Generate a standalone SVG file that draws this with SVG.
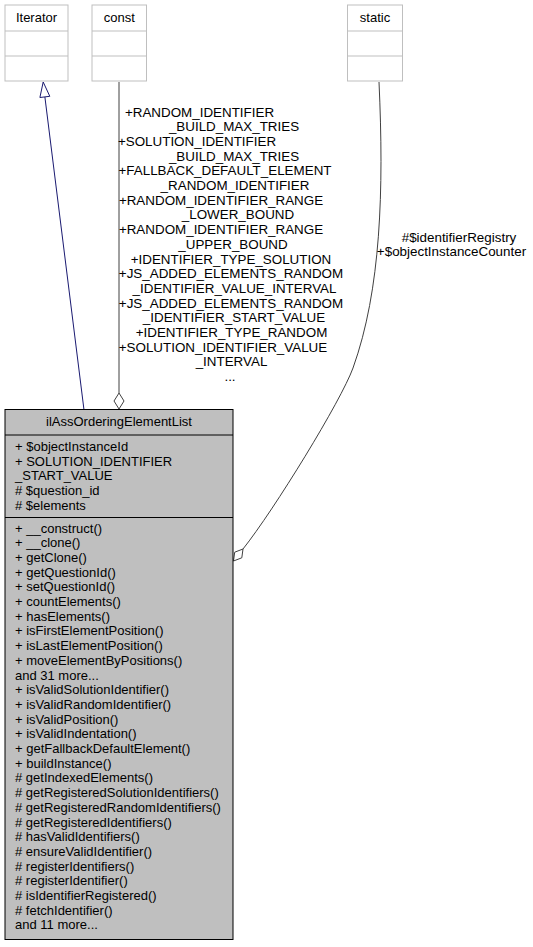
<svg xmlns="http://www.w3.org/2000/svg" width="533" height="947" viewBox="0 0 533 947">
<style>
text{font-family:"Liberation Sans",Arial,sans-serif;font-size:13px;fill:#000}
.c{text-anchor:middle}
.lbl{font-size:13.4px}
.ext{fill:#fff;stroke:#bfbfbf;stroke-width:1}
.main{fill:#bfbfbf;stroke:#000;stroke-width:1}
.sep{stroke:#000;stroke-width:1}
.sepl{stroke:#bfbfbf;stroke-width:1}
.agg{fill:none;stroke:#404040;stroke-width:1}
.aggh{fill:#fff;stroke:#404040;stroke-width:1}
.inh{fill:none;stroke:#191970;stroke-width:1}
.inhh{fill:#fff;stroke:#191970;stroke-width:1}
</style>
<rect width="533" height="947" fill="#fff"/>
<g id="edges">
  <path class="inh" d="M84,410 L44.9,97"/>
  <polygon class="inhh" points="43.2,82 49.8,96.3 39.9,97.5"/>
  <path class="agg" d="M119,82 L119,393"/>
  <polygon class="aggh" points="119,393 124,401 119,409 114,401"/>
  <path class="agg" d="M379,82 C384,190 381,290 353,368 C341,401 274,510 243,549"/>
  <polygon class="aggh" points="243,549 241.8,557.8 233.5,561 234.7,552.2"/>
  <g id="const-label" class="lbl">
    <text class="c lbl" x="199.5" y="116.5">+RANDOM_IDENTIFIER</text>
    <text class="c lbl" x="234" y="131.2">_BUILD_MAX_TRIES</text>
    <text class="c lbl" x="197" y="145.9">+SOLUTION_IDENTIFIER</text>
    <text class="c lbl" x="234" y="160.6">_BUILD_MAX_TRIES</text>
    <text class="c lbl" x="225" y="175.3">+FALLBACK_DEFAULT_ELEMENT</text>
    <text class="c lbl" x="235" y="190">_RANDOM_IDENTIFIER</text>
    <text class="c lbl" x="221" y="204.7">+RANDOM_IDENTIFIER_RANGE</text>
    <text class="c lbl" x="238" y="219.4">_LOWER_BOUND</text>
    <text class="c lbl" x="221" y="234.1">+RANDOM_IDENTIFIER_RANGE</text>
    <text class="c lbl" x="233" y="248.8">_UPPER_BOUND</text>
    <text class="c lbl" x="231" y="263.5">+IDENTIFIER_TYPE_SOLUTION</text>
    <text class="c lbl" x="231" y="278.2">+JS_ADDED_ELEMENTS_RANDOM</text>
    <text class="c lbl" x="234.5" y="292.9">_IDENTIFIER_VALUE_INTERVAL</text>
    <text class="c lbl" x="231" y="307.6">+JS_ADDED_ELEMENTS_RANDOM</text>
    <text class="c lbl" x="234" y="322.3">_IDENTIFIER_START_VALUE</text>
    <text class="c lbl" x="231.5" y="337">+IDENTIFIER_TYPE_RANDOM</text>
    <text class="c lbl" x="223" y="351.7">+SOLUTION_IDENTIFIER_VALUE</text>
    <text class="c lbl" x="231.5" y="366.4">_INTERVAL</text>
    <text class="c lbl" x="230" y="381.1">...</text>
  </g>
  <g id="static-label">
    <text class="c lbl" x="459" y="241.5">#$identifierRegistry</text>
    <text class="c lbl" x="451.5" y="256.2">+$objectInstanceCounter</text>
  </g>
</g>
<g id="Iterator">
  <rect class="ext" x="5" y="5" width="63" height="76"/>
  <line class="sepl" x1="5" y1="31" x2="68" y2="31"/>
  <line class="sepl" x1="5" y1="56" x2="68" y2="56"/>
  <text class="c" x="36.5" y="22">Iterator</text>
</g>
<g id="const">
  <rect class="ext" x="92" y="5" width="54.5" height="76"/>
  <line class="sepl" x1="92" y1="31" x2="146.5" y2="31"/>
  <line class="sepl" x1="92" y1="56" x2="146.5" y2="56"/>
  <text class="c" x="119.3" y="22">const</text>
</g>
<g id="static">
  <rect class="ext" x="347.5" y="5" width="55" height="76"/>
  <line class="sepl" x1="347.5" y1="31" x2="402.5" y2="31"/>
  <line class="sepl" x1="347.5" y1="56" x2="402.5" y2="56"/>
  <text class="c" x="375" y="22">static</text>
</g>
<g id="ilAssOrderingElementList">
  <rect class="main" x="5" y="409.5" width="228" height="530"/>
  <line class="sep" x1="5" y1="435" x2="233" y2="435"/>
  <line class="sep" x1="5" y1="517.5" x2="233" y2="517.5"/>
  <text class="c" x="119" y="426">ilAssOrderingElementList</text>
  <text x="15" y="451">+ $objectInstanceId</text>
  <text x="15" y="465.7">+ SOLUTION_IDENTIFIER</text>
  <text x="15" y="480.4">_START_VALUE</text>
  <text x="15" y="495.1"># $question_id</text>
  <text x="15" y="509.8"># $elements</text>
  <text x="15" y="532.5">+ __construct()</text>
  <text x="15" y="547.2">+ __clone()</text>
  <text x="15" y="561.9">+ getClone()</text>
  <text x="15" y="576.6">+ getQuestionId()</text>
  <text x="15" y="591.3">+ setQuestionId()</text>
  <text x="15" y="606">+ countElements()</text>
  <text x="15" y="620.7">+ hasElements()</text>
  <text x="15" y="635.4">+ isFirstElementPosition()</text>
  <text x="15" y="650.1">+ isLastElementPosition()</text>
  <text x="15" y="664.8">+ moveElementByPositions()</text>
  <text x="15" y="679.5">and 31 more...</text>
  <text x="15" y="694.2">+ isValidSolutionIdentifier()</text>
  <text x="15" y="708.9">+ isValidRandomIdentifier()</text>
  <text x="15" y="723.6">+ isValidPosition()</text>
  <text x="15" y="738.3">+ isValidIndentation()</text>
  <text x="15" y="753">+ getFallbackDefaultElement()</text>
  <text x="15" y="767.7">+ buildInstance()</text>
  <text x="15" y="782.4"># getIndexedElements()</text>
  <text x="15" y="797.1"># getRegisteredSolutionIdentifiers()</text>
  <text x="15" y="811.8"># getRegisteredRandomIdentifiers()</text>
  <text x="15" y="826.5"># getRegisteredIdentifiers()</text>
  <text x="15" y="841.2"># hasValidIdentifiers()</text>
  <text x="15" y="855.9"># ensureValidIdentifier()</text>
  <text x="15" y="870.6"># registerIdentifiers()</text>
  <text x="15" y="885.3"># registerIdentifier()</text>
  <text x="15" y="900"># isIdentifierRegistered()</text>
  <text x="15" y="914.7"># fetchIdentifier()</text>
  <text x="15" y="929.4">and 11 more...</text>
</g>
</svg>
